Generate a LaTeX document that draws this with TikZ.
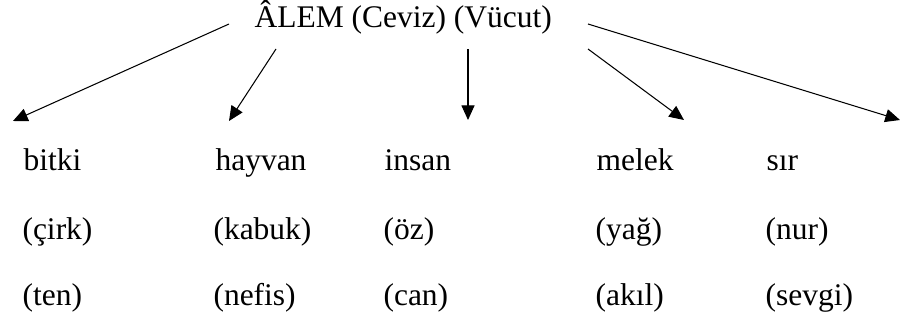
\documentclass[tikz,border=0pt]{standalone}
\usepackage{fontspec}
\setmainfont{Liberation Serif}
\usepackage{tikz}
\usetikzlibrary{arrows.meta,positioning}

\begin{document}
\begin{tikzpicture}[x=0.381pt, y=-0.381pt,
		word/.style={anchor=base west, inner sep=0pt, font=\fontsize{12}{14}\selectfont},
		line/.style={draw, line width=0.4pt, -{Triangle[length=5.6pt, width=5pt]}}]
		\useasboundingbox (0,0) rectangle (915,327);
		% Nodes
		\node [word] (alem) at (254,27) {ÂLEM (Ceviz) (Vücut)};

		\node [word] (bitki) at (23,170) {bitki};
		\node [word] (cirk) at (22,239) {(çirk)};
		\node [word] (ten) at (22,305) {(ten)};

		\node [word] (hayvan) at (215,170) {hayvan};
		\node [word] (kabuk) at (213,239) {(kabuk)};
		\node [word] (nefis) at (213,305) {(nefis)};

		\node [word] (insan) at (384,170) {insan};
		\node [word] (oz) at (383,239) {(öz)};
		\node [word] (can) at (383,305) {(can)};

		\node [word] (melek) at (596,170) {melek};
		\node [word] (yag) at (595,239) {(yağ)};
		\node [word] (akil) at (595,305) {(akıl)};

		\node [word] (sir) at (766,170) {sır};
		\node [word] (nur) at (765,239) {(nur)};
		\node [word] (sevgi) at (765,305) {(sevgi)};

		% Arrow ends
		\coordinate (s1) at (229,24);  \coordinate (e1) at (13,121);
		\coordinate (s2) at (276,49);  \coordinate (e2) at (229,121);
		\coordinate (s3) at (468,49);  \coordinate (e3) at (468,120);
		\coordinate (s4) at (588,49);  \coordinate (e4) at (684,120);
		\coordinate (s5) at (588,24);  \coordinate (e5) at (900,120);

		% Paths
		\path [line] (s1) -- (e1);
		\path [line] (s2) -- (e2);
		\path [line] (s3) -- (e3);
		\path [line] (s4) -- (e4);
		\path [line] (s5) -- (e5);
	\end{tikzpicture}
\end{document}
